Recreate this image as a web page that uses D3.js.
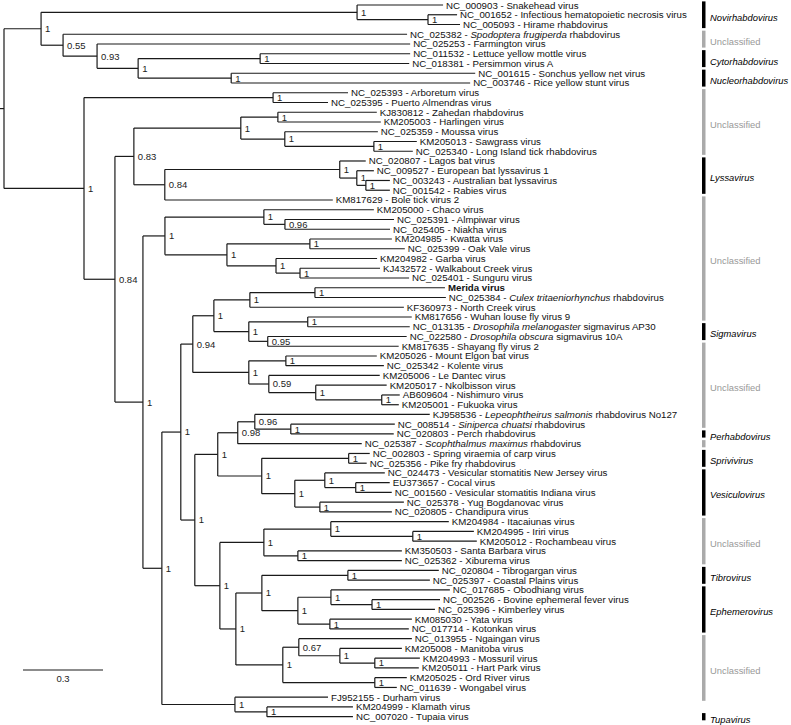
<!DOCTYPE html>
<html><head><meta charset="utf-8">
<script src="https://cdn.jsdelivr.net/npm/d3@7"></script>
<style>body{margin:0;background:#fff} svg{display:block}</style>
</head><body>
<svg id="chart" width="791" height="725"></svg>
<script>
// Tree topology with branch lengths (substitutions/site) and support values; leaves are indices into leafLabels
const treeNewick = "(((0:0.3225,(1:0.109,2:0.120)1:0.266)1:1.185,(3:1.29,(4:1.174,((5:0.5625,6:0.559)1:0.4575,(7:0.915,8:0.896)1:0.349)1:0.154)0.93:0.1275)0.55:0.0825)1:0.139," +
 "((9:0.281,10:0.206)1:0.709," +
 "((((11:0.371,12:0.386)1:0.139,(13:0.349,(14:0.161,15:0.146)1:0.334)1:0.165)1:0.401,((16:0.0975,(17:0.064,(18:0.09,19:0.09)1:0.034)1:0.064)1:0.656,20:0.63)0.84:0.116)0.83:0.071," +
 "(((21:0.4125,(22:0.409,23:0.394)0.96:0.079)1:0.371,((24:0.3075,25:0.356)1:0.311,(26:0.379,(27:0.30,28:0.409)1:0.09)1:0.184)1:0.2325)1:0.0825," +
 "((((((29:0.4875,30:0.491)1:0.244,31:0.5775)1:0.135,((32:0.39,33:0.3825)1:0.221,(34:0.521,35:0.491)0.95:0.071)1:0.131)1:0.079," +
 "((36:0.341,37:0.3675)1:0.139,(38:0.416,(39:0.266,(40:0.0675,41:0.064)1:0.2475)1:0.176)0.59:0.075)1:0.21)0.94:0.045," +
 "((((42:0.656,(43:0.39,44:0.386)1:0.135)0.96:0.064,45:0.465)0.98:0.075,((46:0.079,47:0.0675)1:0.326,((48:0.225,(49:0.1275,50:0.135)1:0.116)1:0.1125,(51:0.315,52:0.27)1:0.094)1:0.124)1:0.165)1:0.086," +
 "(((53:0.4425,(54:0.229,55:0.24)1:0.3075)1:0.251,(56:0.39,57:0.39)1:0.1275)1:0.165," +
 "(((58:0.341,59:0.3075)1:0.3225,((60:0.446,(61:0.255,62:0.236)1:0.154)1:0.124,(63:0.3075,64:0.296)1:0.12)1:0.135)1:0.0975," +
 "((65:0.424,(66:0.2325,(67:0.169,68:0.165)1:0.131)1:0.154)0.67:0.06,(69:0.12,70:0.0825)1:0.345)1:0.176)1:0.06)1:0.094)1:0.0525)1:0.071," +
 "(71:0.349,(72:0.3225,73:0.3225)1:0.12)1:0.274)1:0.071)1:0.105)0.84:0.116)1:0.300):0.015;";

// Leaf labels (*italic*, **bold**)
const leafLabels = [
 "NC_000903 - Snakehead virus",
 "NC_001652 - Infectious hematopoietic necrosis virus",
 "NC_005093 - Hirame rhabdovirus",
 "NC_025382 - *Spodoptera frugiperda* rhabdovirus",
 "NC_025253 - Farmington virus",
 "NC_011532 - Lettuce yellow mottle virus",
 "NC_018381 - Persimmon virus A",
 "NC_001615 - Sonchus yellow net virus",
 "NC_003746 - Rice yellow stunt virus",
 "NC_025393 - Arboretum virus",
 "NC_025395 - Puerto Almendras virus",
 "KJ830812 - Zahedan rhabdovirus",
 "KM205003 - Harlingen virus",
 "NC_025359 - Moussa virus",
 "KM205013 - Sawgrass virus",
 "NC_025340 - Long Island tick rhabdovirus",
 "NC_020807 - Lagos bat virus",
 "NC_009527 - European bat lyssavirus 1",
 "NC_003243 - Australian bat lyssavirus",
 "NC_001542 - Rabies virus",
 "KM817629 - Bole tick virus 2",
 "KM205000 - Chaco virus",
 "NC_025391 - Almpiwar virus",
 "NC_025405 - Niakha virus",
 "KM204985 - Kwatta virus",
 "NC_025399 - Oak Vale virus",
 "KM204982 - Garba virus",
 "KJ432572 - Walkabout Creek virus",
 "NC_025401 - Sunguru virus",
 "**Merida virus**",
 "NC_025384 - *Culex tritaeniorhynchus* rhabdovirus",
 "KF360973 - North Creek virus",
 "KM817656 - Wuhan louse fly virus 9",
 "NC_013135 - *Drosophila melanogaster* sigmavirus AP30",
 "NC_022580 - *Drosophila obscura* sigmavirus 10A",
 "KM817635 - Shayang fly virus 2",
 "KM205026 - Mount Elgon bat virus",
 "NC_025342 - Kolente virus",
 "KM205006 - Le Dantec virus",
 "KM205017 - Nkolbisson virus",
 "AB609604 - Nishimuro virus",
 "KM205001 - Fukuoka virus",
 "KJ958536 - *Lepeophtheirus salmonis* rhabdovirus No127",
 "NC_008514 - *Siniperca chuatsi* rhabdovirus",
 "NC_020803 - Perch rhabdovirus",
 "NC_025387 - *Scophthalmus maximus* rhabdovirus",
 "NC_002803 - Spring viraemia of carp virus",
 "NC_025356 - Pike fry rhabdovirus",
 "NC_024473 - Vesicular stomatitis New Jersey virus",
 "EU373657 - Cocal virus",
 "NC_001560 - Vesicular stomatitis Indiana virus",
 "NC_025378 - Yug Bogdanovac virus",
 "NC_020805 - Chandipura virus",
 "KM204984 - Itacaiunas virus",
 "KM204995 - Iriri virus",
 "KM205012 - Rochambeau virus",
 "KM350503 - Santa Barbara virus",
 "NC_025362 - Xiburema virus",
 "NC_020804 - Tibrogargan virus",
 "NC_025397 - Coastal Plains virus",
 "NC_017685 - Obodhiang virus",
 "NC_002526 - Bovine ephemeral fever virus",
 "NC_025396 - Kimberley virus",
 "KM085030 - Yata virus",
 "NC_017714 - Kotonkan virus",
 "NC_013955 - Ngaingan virus",
 "KM205008 - Manitoba virus",
 "KM204993 - Mossuril virus",
 "KM205011 - Hart Park virus",
 "KM205025 - Ord River virus",
 "NC_011639 - Wongabel virus",
 "FJ952155 - Durham virus",
 "KM204999 - Klamath virus",
 "NC_007020 - Tupaia virus"
];

// Genus groups (first/last leaf index)
const genusNames = ["Novirhabdovirus","Unclassified","Cytorhabdovirus","Nucleorhabdovirus","Unclassified","Lyssavirus","Unclassified","Sigmavirus","Unclassified","Perhabdovirus","Unclassified","Sprivivirus","Vesiculovirus","Unclassified","Tibrovirus","Ephemerovirus","Unclassified","Tupavirus"];
const genusFirstLeaf = [0,3,5,7,9,16,20,33,35,44,45,46,48,53,58,60,65,73];
const genusLastLeaf  = [2,4,6,8,15,19,32,34,43,44,45,47,52,57,59,64,71,73];
const genusClassified = [true,false,true,true,false,true,false,true,false,true,false,true,true,false,true,true,false,true];
const genusLabelShown = [true,true,true,true,true,true,true,true,true,true,false,true,true,true,true,true,true,true];

const scaleBarValue = 0.3;
const scaleBarLabel = "0.3";

// ---------- parse ----------
function parseNewick(s){
  let i=0;
  function node(){
    const n={children:[]};
    if(s[i]==='('){
      i++;
      n.children.push(node());
      while(s[i]===','){ i++; n.children.push(node()); }
      i++;
    }
    let name='';
    while(i<s.length && !':,();'.includes(s[i])) name+=s[i++];
    n.name=name;
    n.length=0;
    if(s[i]===':'){ i++; let l=''; while(i<s.length && !',();'.includes(s[i])) l+=s[i++]; n.length=+l; }
    if(!n.children.length) delete n.children;
    return n;
  }
  return node();
}

const root = d3.hierarchy(parseNewick(treeNewick));
root.eachBefore(d=>{ d.dist = d.parent ? d.parent.dist + d.data.length : 0; });
const leaves = root.leaves();

const svg = d3.select("#chart");
const x = d3.scaleLinear().domain([0, 1]).range([4, 4 + 266.67]);
const y = d3.scaleLinear().domain([0, leaves.length - 1]).range([5, 716.7]);

leaves.forEach((d,i)=>{ d.yy = y(i); d.idx = +d.data.name; });
root.eachAfter(d=>{
  if(d.children){ d.yy = (d.children[0].yy + d.children[d.children.length-1].yy)/2; }
  d.xx = x(d.dist);
});

const font = "'Liberation Sans', Arial, Helvetica, sans-serif";
const g = svg.append("g").attr("fill","none").attr("stroke","#1a1a1a").attr("stroke-width",1.2);

// root stub
g.append("line").attr("x1", x(-root.data.length)).attr("x2", root.xx).attr("y1", root.yy).attr("y2", root.yy);
// horizontal branches
g.selectAll("line.h").data(root.descendants().filter(d=>d.parent)).join("line")
  .attr("class","h")
  .attr("x1", d=>d.parent.xx).attr("x2", d=>d.xx)
  .attr("y1", d=>d.yy).attr("y2", d=>d.yy);
// vertical connectors
g.selectAll("line.v").data(root.descendants().filter(d=>d.children)).join("line")
  .attr("class","v")
  .attr("x1", d=>d.xx).attr("x2", d=>d.xx)
  .attr("y1", d=>d.children[0].yy).attr("y2", d=>d.children[d.children.length-1].yy);

// support labels
svg.append("g").selectAll("text").data(root.descendants().filter(d=>d.children && d.data.name!==''))
  .join("text")
  .attr("x", d=>d.xx + 4).attr("y", d=>d.yy).attr("dy","0.36em")
  .attr("font-family", font).attr("font-size", 9.5).attr("fill","#222")
  .text(d=>d.data.name);

// leaf labels
const lt = svg.append("g").selectAll("text").data(leaves).join("text")
  .attr("x", d=>d.xx + 3).attr("y", d=>d.yy).attr("dy","0.36em")
  .attr("font-family", font).attr("font-size", 9.7).attr("fill","#111");
lt.each(function(d){
  const label = leafLabels[d.idx];
  const parts = label.split(/(\*\*[^*]+\*\*|\*[^*]+\*)/).filter(p=>p.length);
  const t = d3.select(this);
  parts.forEach(p=>{
    const s = t.append("tspan");
    if(p.startsWith("**")) s.attr("font-weight","bold").text(p.slice(2,-2));
    else if(p.startsWith("*")) s.attr("font-style","italic").text(p.slice(1,-1));
    else s.text(p);
  });
});

// genus bars
const genera = genusNames.map((n,i)=>({name:n, a:genusFirstLeaf[i], b:genusLastLeaf[i], c:genusClassified[i], show:genusLabelShown[i]}));
const gg = svg.append("g");
gg.selectAll("rect").data(genera).join("rect")
  .attr("x", 702).attr("width", 3.5)
  .attr("y", d=>y(d.a) - 3.6).attr("height", d=>y(d.b) - y(d.a) + 7.2)
  .attr("fill", d=>d.c ? "#000" : "#aaa");
gg.selectAll("text").data(genera.filter(d=>d.show)).join("text")
  .attr("x", 710).attr("y", d=>(y(d.a)+y(d.b))/2 + 2.5).attr("dy","0.36em")
  .attr("font-family", font).attr("font-size", 9.4)
  .attr("font-style", d=>d.c ? "italic" : "normal")
  .attr("fill", d=>d.c ? "#000" : "#999")
  .text(d=>d.name);

// scale bar
const sb = svg.append("g");
sb.append("line").attr("x1", 23).attr("x2", 23 + (x(scaleBarValue) - x(0))).attr("y1", 670).attr("y2", 670)
  .attr("stroke","#1a1a1a").attr("stroke-width",1.2);
sb.append("text").attr("x", 23 + (x(scaleBarValue) - x(0))/2).attr("y", 679).attr("dy","0.36em")
  .attr("text-anchor","middle").attr("font-family", font).attr("font-size", 9.5).attr("fill","#222")
  .text(scaleBarLabel);
</script>
</body></html>
